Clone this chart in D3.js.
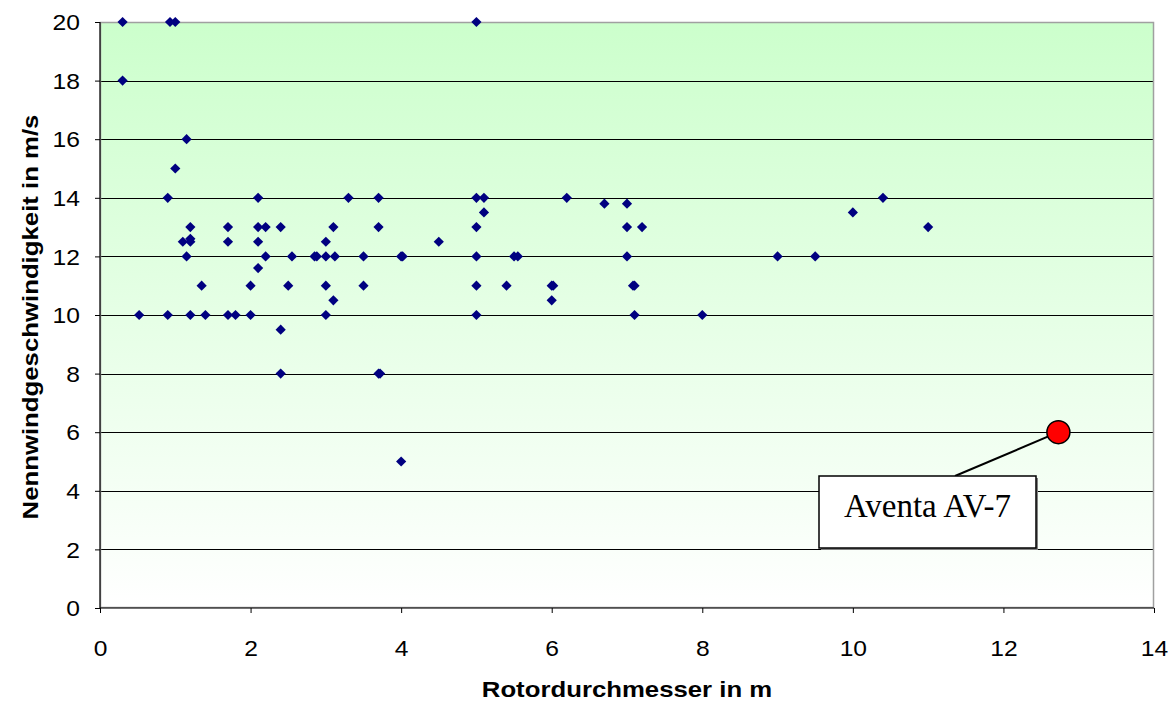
<!DOCTYPE html>
<html>
<head>
<meta charset="utf-8">
<script src="https://cdn.jsdelivr.net/npm/d3@7"></script>
<style>
  html, body { margin: 0; padding: 0; background: #ffffff; }
  svg { display: block; }
</style>
</head>
<body>
<svg id="chart" width="1174" height="705"></svg>
<script>
// Rotor diameter (m) of small wind turbines
const rotorDiameter = [
  0.3, 0.3, 0.93, 1.0, 1.0, 1.15, 0.9, 2.1, 1.2, 1.7, 2.1, 2.2, 2.4,
  1.1, 1.2, 1.2, 1.7, 2.1, 1.15, 2.2, 2.55, 2.1, 1.35, 2.0, 2.5,
  0.52, 0.9, 1.2, 1.4, 1.7, 1.8, 2.0, 2.4, 3.3, 3.7, 3.1, 3.7, 3.0, 4.5,
  2.85, 2.88, 3.0, 3.12, 3.5, 4.0, 4.02, 3.0, 3.5, 3.1, 3.0, 2.4, 3.7, 3.72, 4.0,
  5.0, 5.0, 5.1, 6.2, 6.7, 7.0, 5.1, 5.0, 7.0, 7.2, 5.0, 5.5, 5.55, 7.0,
  5.0, 5.4, 6.0, 6.02, 7.08, 7.1, 6.0, 5.0, 7.1, 8.0, 9.0, 9.5, 10.0, 10.4, 11.0
];
// Rated wind speed (m/s), same order as rotorDiameter
const ratedWindSpeed = [
  20, 18, 20, 20, 15, 16, 14, 14, 13, 13, 13, 13, 13,
  12.5, 12.5, 12.6, 12.5, 12.5, 12, 12, 12, 11.6, 11, 11, 11,
  10, 10, 10, 10, 10, 10, 10, 9.5, 14, 14, 13, 13, 12.5, 12.5,
  12, 12, 12, 12, 12, 12, 12, 11, 11, 10.5, 10, 8, 8, 8, 5,
  20, 14, 14, 14, 13.8, 13.8, 13.5, 13, 13, 13, 12, 12, 12, 12,
  11, 11, 11, 11, 11, 11, 10.5, 10, 10, 10, 12, 12, 13.5, 14, 13
];

// Highlighted turbine
const highlightName = ["Aventa AV-7"];
const highlightDiameter = [12.73];
const highlightSpeed = [6];

// Axis ticks
const xTicks = [0, 2, 4, 6, 8, 10, 12, 14];
const yTicks = [0, 2, 4, 6, 8, 10, 12, 14, 16, 18, 20];

const xTitle = "Rotordurchmesser in m";
const yTitle = "Nennwindgeschwindigkeit in m/s";

const sans = "Arial, 'Liberation Sans', sans-serif";
const stretch = 1.12; // horizontal widening of the chart lettering

const svg = d3.select("#chart");
const margin = { left: 100, top: 22, right: 20, bottom: 97 };
const plotW = 1154 - margin.left;
const plotH = 608 - margin.top;

const x = d3.scaleLinear().domain([0, 14]).range([margin.left, margin.left + plotW]);
const y = d3.scaleLinear().domain([0, 20]).range([margin.top + plotH, margin.top]);

// Plot area background: pale green fading to white
const defs = svg.append("defs");
const grad = defs.append("linearGradient")
  .attr("id", "plotBg").attr("x1", 0).attr("y1", 0).attr("x2", 0).attr("y2", 1);
grad.append("stop").attr("offset", "0%").attr("stop-color", "#ccffcc");
grad.append("stop").attr("offset", "100%").attr("stop-color", "#ffffff");

svg.append("rect")
  .attr("x", margin.left).attr("y", margin.top)
  .attr("width", plotW).attr("height", plotH)
  .attr("fill", "url(#plotBg)");

// Horizontal gridlines
svg.append("g")
  .selectAll("line")
  .data(yTicks.filter(d => d > 0 && d < 20))
  .join("line")
  .attr("x1", margin.left).attr("x2", margin.left + plotW)
  .attr("y1", d => Math.round(y(d)) + 0.5).attr("y2", d => Math.round(y(d)) + 0.5)
  .attr("stroke", "#000").attr("stroke-width", 1);

// Plot area border
svg.append("rect")
  .attr("x", margin.left + 0.5).attr("y", margin.top + 0.5)
  .attr("width", plotW - 1).attr("height", plotH - 1)
  .attr("fill", "none").attr("stroke", "#a0a0a0").attr("stroke-width", 1.5);

// Axes
const xAxis = svg.append("g")
  .attr("transform", `translate(0,${margin.top + plotH})`)
  .call(d3.axisBottom(x).tickValues(xTicks).tickSize(5).tickFormat(d3.format("d")));
const yAxis = svg.append("g")
  .attr("transform", `translate(${margin.left},0)`)
  .call(d3.axisLeft(y).tickValues(yTicks).tickSize(5).tickFormat(d3.format("d")));

[xAxis, yAxis].forEach(g => {
  g.select(".domain").attr("stroke", "#000").attr("stroke-width", 1.2);
  g.selectAll(".tick line").attr("stroke", "#000");
  g.selectAll(".tick text")
    .attr("fill", "#000")
    .style("font-family", sans)
    .style("font-size", "22px");
});
xAxis.select(".domain").attr("d", `M${margin.left},0H${margin.left + plotW}`);
yAxis.select(".domain").attr("d", `M0,${margin.top}V${margin.top + plotH}`);

xAxis.selectAll(".tick text")
  .attr("y", null).attr("dy", null)
  .attr("transform", `translate(0,48) scale(${stretch},1)`);
yAxis.selectAll(".tick text")
  .attr("x", null).attr("dy", "0.35em")
  .attr("transform", `translate(-20,0) scale(${stretch},1)`);

// Axis titles
svg.append("text")
  .attr("transform", `translate(${margin.left + plotW / 2},697) scale(${stretch},1)`)
  .attr("text-anchor", "middle")
  .style("font-family", sans)
  .style("font-size", "23px").style("font-weight", "bold")
  .text(xTitle);

svg.append("text")
  .attr("transform", `translate(38,${margin.top + plotH / 2 + 2}) rotate(-90) scale(${stretch},1)`)
  .attr("text-anchor", "middle")
  .style("font-family", sans)
  .style("font-size", "23px").style("font-weight", "bold")
  .text(yTitle);

// Data points as diamonds
const points = rotorDiameter.map((d, i) => ({ d, v: ratedWindSpeed[i] }));
const diamond = d3.symbol().type(d3.symbolSquare).size(52);
svg.append("g")
  .selectAll("path")
  .data(points)
  .join("path")
  .attr("d", diamond)
  .attr("transform", p => `translate(${x(p.d)},${y(p.v)}) rotate(45)`)
  .attr("fill", "#000080");

// Highlighted turbine with callout
const hx = x(highlightDiameter[0]);
const hy = y(highlightSpeed[0]);
const box = { x: 819, y: 476, w: 217, h: 72 };

svg.append("line")
  .attr("x1", box.x + 136).attr("y1", box.y)
  .attr("x2", hx).attr("y2", hy)
  .attr("stroke", "#000").attr("stroke-width", 2);

svg.append("circle")
  .attr("cx", hx).attr("cy", hy).attr("r", 11.5)
  .attr("fill", "#ff0000").attr("stroke", "#000").attr("stroke-width", 1.5);

svg.append("rect")
  .attr("x", box.x + 2).attr("y", box.y + 2)
  .attr("width", box.w).attr("height", box.h)
  .attr("fill", "#808080");
svg.append("rect")
  .attr("x", box.x).attr("y", box.y)
  .attr("width", box.w).attr("height", box.h)
  .attr("fill", "#ffffff").attr("stroke", "#000").attr("stroke-width", 1.5);

svg.append("text")
  .attr("x", box.x + box.w / 2).attr("y", 517)
  .attr("text-anchor", "middle")
  .style("font-family", "'Liberation Serif', 'Times New Roman', serif")
  .style("font-size", "33px")
  .text(highlightName[0]);
</script>
</body>
</html>
